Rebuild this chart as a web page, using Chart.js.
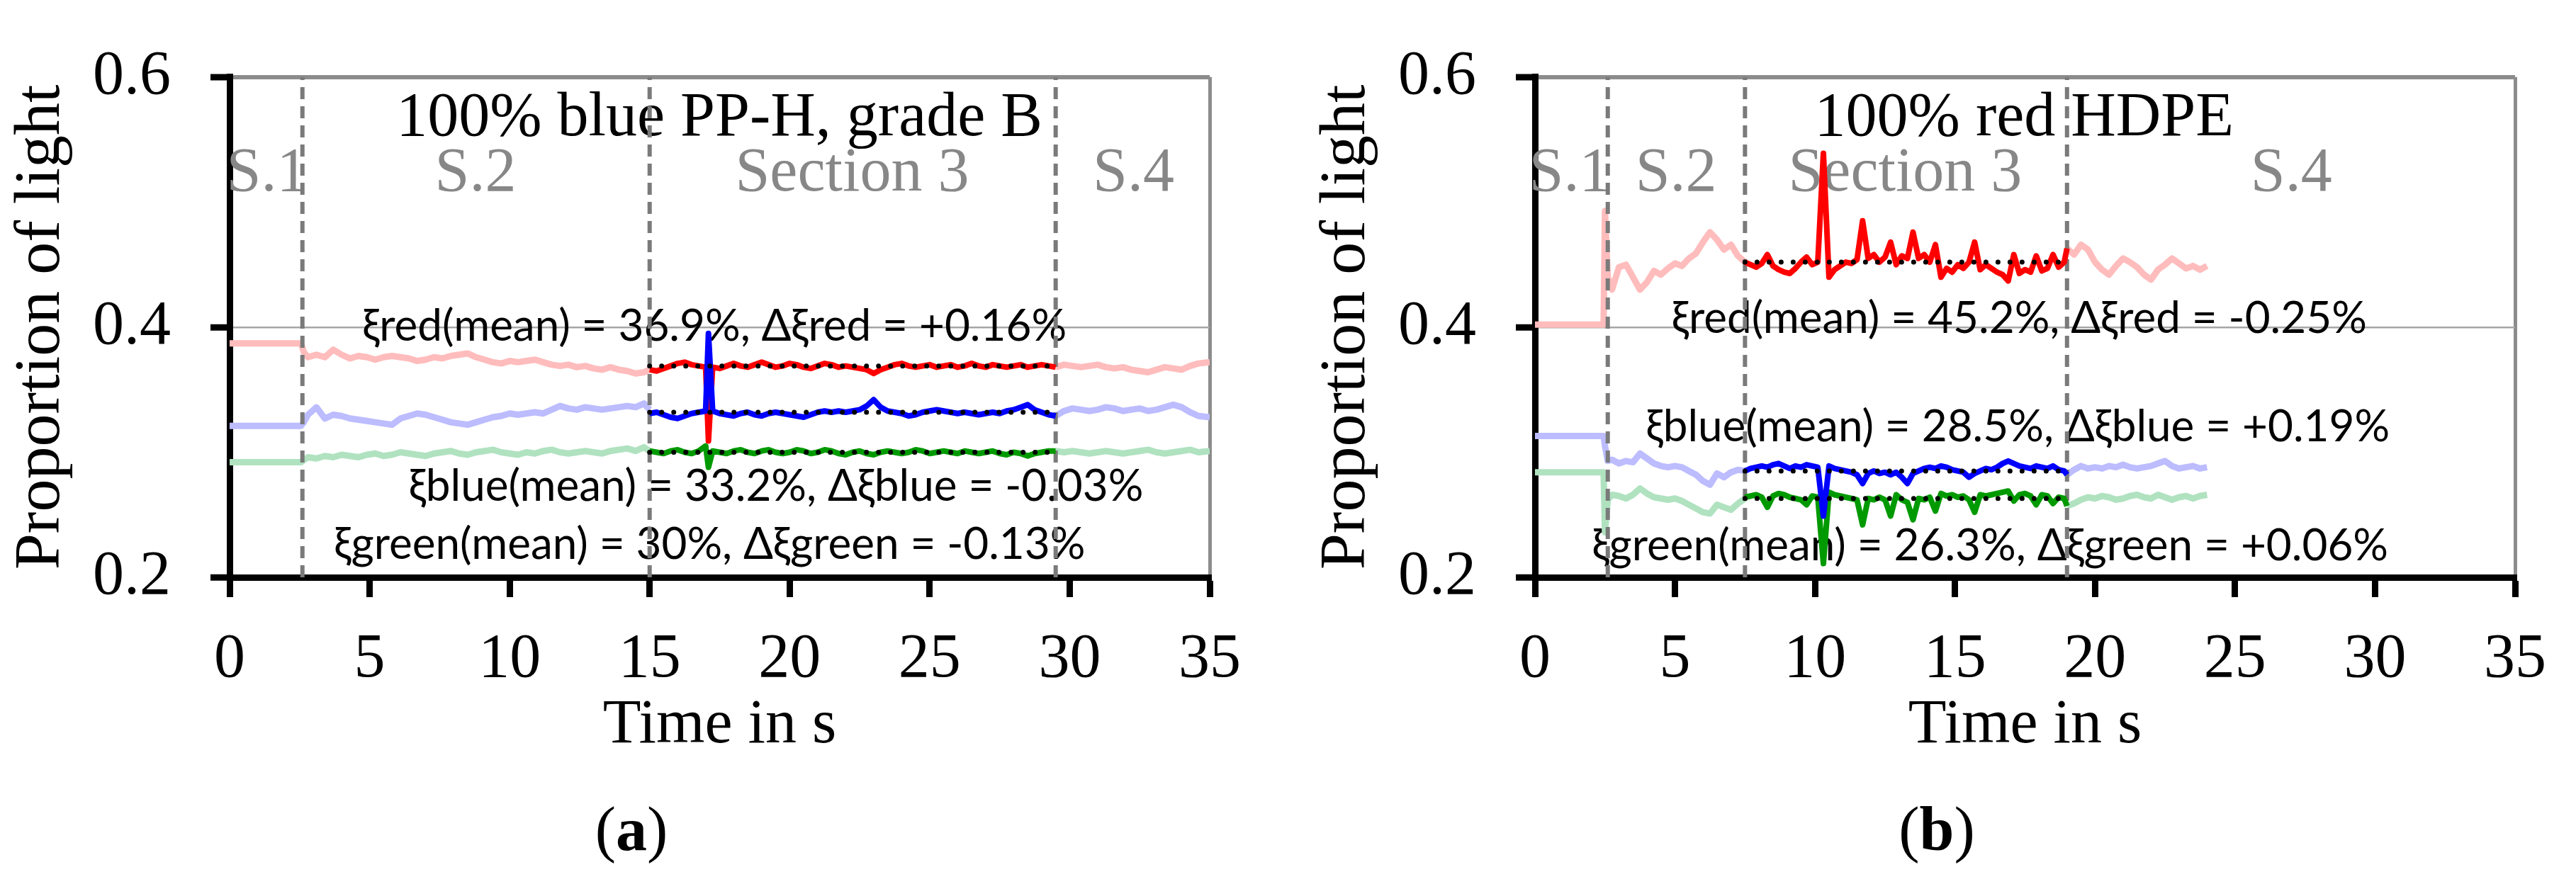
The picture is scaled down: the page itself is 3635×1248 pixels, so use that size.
<!DOCTYPE html>
<html>
<head>
<meta charset="utf-8">
<title>Proportion of light</title>
<script src="https://cdn.jsdelivr.net/npm/chart.js@4.4.1/dist/chart.umd.min.js"></script>
<style>
  html, body { margin: 0; padding: 0; background: #fff; }
  body { width: 3635px; height: 1248px; position: relative; overflow: hidden; }
  .panel { position: absolute; top: 0; height: 1248px; }
  .panel canvas { display: block; }
  #panelA { left: 0; width: 1817px; }
  #panelB { left: 1817px; width: 1818px; }
  .caption { position: absolute; width: 300px; text-align: center; color: #000;
             font: 88px/88px "Liberation Serif", "Times New Roman", serif; }
</style>
</head>
<body>
<div class="panel" id="panelA"><canvas id="chartA" width="1817" height="1248"></canvas></div>
<div class="panel" id="panelB"><canvas id="chartB" width="1818" height="1248"></canvas></div>
<div class="caption" style="left:741px; top:1127px">(<b>a</b>)</div>
<div class="caption" style="left:2583px; top:1127px">(<b>b</b>)</div>

<script>
/* =========================
   DATA - panel (a) 100% blue PP-H
========================= */
const tPreA = [0, 2.55, 2.65, 2.8, 3.1, 3.4, 3.7, 4.0, 4.3, 4.6, 4.9, 5.2, 5.5, 5.8, 6.1, 6.4, 6.7, 7.0, 7.3, 7.6, 7.9, 8.2, 8.5, 8.8, 9.1, 9.4, 9.7, 10.0, 10.3, 10.6, 10.9, 11.2, 11.5, 11.8, 12.1, 12.4, 12.7, 13.0, 13.3, 13.6, 13.9, 14.2, 14.5, 14.8, 15.0];
const redPreA = [0.387, 0.387, 0.380, 0.376, 0.378, 0.376, 0.382, 0.378, 0.375, 0.377, 0.376, 0.374, 0.376, 0.377, 0.376, 0.375, 0.373, 0.374, 0.376, 0.375, 0.377, 0.378, 0.379, 0.376, 0.374, 0.372, 0.371, 0.373, 0.372, 0.373, 0.374, 0.372, 0.370, 0.369, 0.370, 0.368, 0.369, 0.367, 0.366, 0.368, 0.366, 0.365, 0.363, 0.364, 0.366];
const bluePreA = [0.321, 0.321, 0.324, 0.330, 0.336, 0.327, 0.330, 0.329, 0.327, 0.326, 0.325, 0.324, 0.323, 0.322, 0.327, 0.329, 0.331, 0.330, 0.328, 0.326, 0.324, 0.323, 0.322, 0.324, 0.326, 0.328, 0.329, 0.331, 0.330, 0.331, 0.332, 0.331, 0.334, 0.337, 0.335, 0.334, 0.336, 0.335, 0.334, 0.335, 0.336, 0.337, 0.336, 0.339, 0.334];
const greenPreA = [0.292, 0.292, 0.294, 0.296, 0.295, 0.297, 0.296, 0.298, 0.297, 0.296, 0.298, 0.299, 0.297, 0.298, 0.300, 0.299, 0.298, 0.297, 0.299, 0.300, 0.301, 0.299, 0.298, 0.300, 0.301, 0.302, 0.300, 0.299, 0.298, 0.300, 0.299, 0.301, 0.302, 0.300, 0.299, 0.300, 0.301, 0.300, 0.299, 0.301, 0.302, 0.303, 0.301, 0.304, 0.301];

const tSecA = [15.0, 15.25, 15.5, 15.75, 16.0, 16.25, 16.5, 16.75, 17.0, 17.1, 17.25, 17.5, 17.75, 18.0, 18.25, 18.5, 18.75, 19.0, 19.25, 19.5, 19.75, 20.0, 20.25, 20.5, 20.75, 21.0, 21.25, 21.5, 21.75, 22.0, 22.25, 22.5, 22.75, 23.0, 23.25, 23.5, 23.75, 24.0, 24.25, 24.5, 24.75, 25.0, 25.25, 25.5, 25.75, 26.0, 26.25, 26.5, 26.75, 27.0, 27.25, 27.5, 27.75, 28.0, 28.25, 28.5, 28.75, 29.0, 29.25, 29.5];
const redSecA = [0.366, 0.365, 0.367, 0.369, 0.371, 0.372, 0.370, 0.369, 0.368, 0.309, 0.368, 0.367, 0.369, 0.371, 0.369, 0.368, 0.370, 0.372, 0.370, 0.368, 0.369, 0.371, 0.370, 0.368, 0.367, 0.369, 0.371, 0.370, 0.368, 0.369, 0.368, 0.367, 0.366, 0.363, 0.366, 0.368, 0.370, 0.371, 0.369, 0.368, 0.369, 0.370, 0.368, 0.369, 0.370, 0.368, 0.369, 0.371, 0.369, 0.368, 0.370, 0.369, 0.368, 0.369, 0.370, 0.368, 0.369, 0.370, 0.369, 0.368];
const blueSecA = [0.331, 0.332, 0.330, 0.328, 0.327, 0.329, 0.331, 0.332, 0.333, 0.395, 0.333, 0.331, 0.330, 0.329, 0.331, 0.332, 0.330, 0.329, 0.331, 0.332, 0.331, 0.330, 0.329, 0.328, 0.330, 0.332, 0.333, 0.332, 0.333, 0.332, 0.333, 0.334, 0.337, 0.342, 0.336, 0.333, 0.332, 0.331, 0.329, 0.330, 0.332, 0.333, 0.334, 0.333, 0.332, 0.331, 0.332, 0.331, 0.330, 0.331, 0.332, 0.331, 0.333, 0.334, 0.336, 0.338, 0.334, 0.332, 0.330, 0.329];
const greenSecA = [0.301, 0.300, 0.299, 0.301, 0.302, 0.300, 0.299, 0.301, 0.305, 0.288, 0.301, 0.300, 0.299, 0.301, 0.302, 0.300, 0.299, 0.301, 0.302, 0.300, 0.299, 0.300, 0.302, 0.301, 0.299, 0.300, 0.302, 0.301, 0.299, 0.298, 0.300, 0.301, 0.299, 0.298, 0.300, 0.301, 0.300, 0.299, 0.300, 0.302, 0.301, 0.299, 0.300, 0.301, 0.300, 0.299, 0.301, 0.300, 0.299, 0.300, 0.301, 0.299, 0.298, 0.300, 0.299, 0.297, 0.299, 0.300, 0.301, 0.301];

const tPostA = [29.5, 29.8, 30.1, 30.4, 30.7, 31.0, 31.3, 31.6, 31.9, 32.2, 32.5, 32.8, 33.1, 33.4, 33.7, 34.0, 34.3, 34.6, 35.0];
const redPostA = [0.368, 0.370, 0.369, 0.368, 0.369, 0.370, 0.368, 0.367, 0.368, 0.366, 0.365, 0.364, 0.366, 0.368, 0.367, 0.366, 0.369, 0.371, 0.372];
const bluePostA = [0.329, 0.333, 0.335, 0.334, 0.333, 0.334, 0.336, 0.335, 0.333, 0.334, 0.335, 0.333, 0.334, 0.336, 0.338, 0.336, 0.332, 0.329, 0.328];
const greenPostA = [0.301, 0.300, 0.301, 0.300, 0.299, 0.300, 0.301, 0.300, 0.299, 0.300, 0.301, 0.302, 0.300, 0.299, 0.300, 0.301, 0.302, 0.300, 0.301];

const meansA = [0.369, 0.332, 0.300];        // red, blue, green
const sectionsA = [2.6, 15, 29.5];           // dashed section borders in s

/* =========================
   DATA - panel (b) 100% red HDPE
========================= */
const tPreB = [0, 2.45, 2.5, 2.6, 2.75, 3.0, 3.25, 3.5, 3.75, 4.0, 4.25, 4.5, 4.75, 5.0, 5.25, 5.5, 5.75, 6.0, 6.25, 6.5, 6.75, 7.0, 7.25, 7.5];
const redPreB = [0.402, 0.402, 0.493, 0.440, 0.430, 0.448, 0.450, 0.440, 0.430, 0.436, 0.445, 0.442, 0.447, 0.451, 0.449, 0.455, 0.459, 0.468, 0.476, 0.470, 0.462, 0.466, 0.457, 0.452];
const bluePreB = [0.313, 0.313, 0.305, 0.293, 0.294, 0.291, 0.293, 0.292, 0.299, 0.295, 0.291, 0.289, 0.288, 0.289, 0.288, 0.285, 0.282, 0.277, 0.274, 0.283, 0.280, 0.284, 0.286, 0.285];
const greenPreB = [0.284, 0.284, 0.236, 0.262, 0.266, 0.265, 0.263, 0.266, 0.271, 0.267, 0.264, 0.263, 0.262, 0.263, 0.261, 0.258, 0.255, 0.252, 0.251, 0.258, 0.256, 0.254, 0.259, 0.263];

const tSecB = [7.5, 7.7, 7.9, 8.1, 8.3, 8.5, 8.7, 8.9, 9.1, 9.3, 9.5, 9.7, 9.9, 10.1, 10.3, 10.5, 10.7, 10.9, 11.1, 11.3, 11.5, 11.7, 11.9, 12.1, 12.3, 12.5, 12.7, 12.9, 13.1, 13.3, 13.5, 13.7, 13.9, 14.1, 14.3, 14.5, 14.7, 14.9, 15.1, 15.3, 15.5, 15.7, 15.9, 16.1, 16.3, 16.5, 16.7, 16.9, 17.1, 17.3, 17.5, 17.7, 17.9, 18.1, 18.3, 18.5, 18.7, 18.9, 19.0];
const redSecB = [0.452, 0.450, 0.448, 0.451, 0.458, 0.449, 0.446, 0.444, 0.443, 0.447, 0.452, 0.456, 0.450, 0.452, 0.539, 0.440, 0.446, 0.449, 0.452, 0.451, 0.454, 0.485, 0.455, 0.458, 0.452, 0.456, 0.468, 0.450, 0.457, 0.455, 0.476, 0.455, 0.458, 0.452, 0.466, 0.440, 0.447, 0.444, 0.450, 0.447, 0.452, 0.468, 0.446, 0.450, 0.447, 0.444, 0.442, 0.437, 0.458, 0.443, 0.446, 0.444, 0.457, 0.445, 0.447, 0.458, 0.448, 0.452, 0.463];
const blueSecB = [0.285, 0.287, 0.288, 0.289, 0.288, 0.290, 0.291, 0.289, 0.287, 0.289, 0.288, 0.290, 0.289, 0.288, 0.249, 0.289, 0.287, 0.286, 0.285, 0.284, 0.282, 0.275, 0.283, 0.285, 0.283, 0.284, 0.282, 0.284, 0.280, 0.275, 0.283, 0.285, 0.287, 0.288, 0.287, 0.289, 0.288, 0.286, 0.285, 0.284, 0.280, 0.283, 0.285, 0.287, 0.286, 0.288, 0.291, 0.293, 0.291, 0.289, 0.288, 0.287, 0.289, 0.288, 0.287, 0.289, 0.286, 0.285, 0.282];
const greenSecB = [0.264, 0.265, 0.266, 0.264, 0.256, 0.265, 0.267, 0.266, 0.264, 0.263, 0.262, 0.258, 0.265, 0.264, 0.211, 0.268, 0.266, 0.265, 0.264, 0.263, 0.262, 0.242, 0.263, 0.262, 0.264, 0.262, 0.249, 0.266, 0.262, 0.260, 0.246, 0.263, 0.262, 0.264, 0.253, 0.267, 0.265, 0.266, 0.264, 0.265, 0.262, 0.252, 0.266, 0.265, 0.266, 0.267, 0.268, 0.269, 0.261, 0.266, 0.267, 0.265, 0.258, 0.266, 0.265, 0.259, 0.264, 0.263, 0.257];

const tPostB = [19.0, 19.25, 19.5, 19.75, 20.0, 20.25, 20.5, 20.75, 21.0, 21.25, 21.5, 21.75, 22.0, 22.25, 22.5, 22.75, 23.0, 23.25, 23.5, 23.75, 24.0];
const redPostB = [0.463, 0.458, 0.466, 0.462, 0.452, 0.446, 0.442, 0.449, 0.455, 0.452, 0.448, 0.442, 0.438, 0.446, 0.450, 0.455, 0.451, 0.447, 0.449, 0.446, 0.449];
const bluePostB = [0.282, 0.286, 0.289, 0.287, 0.288, 0.287, 0.289, 0.288, 0.290, 0.288, 0.287, 0.288, 0.289, 0.291, 0.293, 0.289, 0.287, 0.288, 0.289, 0.287, 0.288];
const greenPostB = [0.257, 0.259, 0.262, 0.264, 0.263, 0.265, 0.264, 0.262, 0.263, 0.265, 0.266, 0.264, 0.263, 0.266, 0.264, 0.262, 0.264, 0.265, 0.263, 0.265, 0.266];

const meansB = [0.452, 0.285, 0.263];
const sectionsB = [2.6, 7.5, 19];

/* =========================
   AXES / TEXT
========================= */
const xTicks = [0, 5, 10, 15, 20, 25, 30, 35];
const yTicks = [0.2, 0.4, 0.6];
const xTitle = "Time in s";
const yTitle = "Proportion of light";
const sectionNames = ["S.1", "S.2", "Section 3", "S.4"];

const SERIF = '"Liberation Serif", "Times New Roman", serif';
const SANS = 'Lato, "Noto Sans", "DejaVu Sans", sans-serif';

const COL = {
  red: "#ff0000", blue: "#0000ff", green: "#009a00",
  redLight: "#ffbcbc", blueLight: "#bcbcff", greenLight: "#b0e2c0",
  dash: "#7a7a7a", section: "#878787"
};

/* =========================
   HELPERS
========================= */
function pts(times, values) {
  return times.map((t, i) => ({ x: t, y: values[i] }));
}

// faint trace before and after section 3, broken over section 3
function faintPts(tPre, vPre, tPost, vPost) {
  const gapX = (tPre[tPre.length - 1] + tPost[0]) / 2;
  return pts(tPre, vPre).concat([{ x: gapX, y: null }], pts(tPost, vPost));
}

function near(a, b) {
  return a !== undefined && Math.abs(a - b) < 1e-6;
}

function line(data, color, width, order, extra) {
  return Object.assign({
    data: data, borderColor: color, borderWidth: width, order: order,
    pointRadius: 0, tension: 0, fill: false, spanGaps: false,
    borderJoinStyle: "round", borderCapStyle: "butt"
  }, extra || {});
}

// text drawn under the traces, anchored in data units
function textPlugin(items) {
  return {
    id: "panelText",
    beforeDatasetsDraw(chart) {
      const ctx = chart.ctx;
      const sx = chart.scales.x, sy = chart.scales.y;
      ctx.save();
      items.forEach(it => {
        ctx.font = it.font;
        ctx.fillStyle = it.color;
        ctx.textAlign = "center";
        ctx.textBaseline = "middle";
        ctx.fillText(it.text, sx.getPixelForValue(it.t), sy.getPixelForValue(it.v));
      });
      ctx.restore();
    }
  };
}

/* =========================
   PANEL BUILDER
========================= */
function buildPanel(id, p) {
  const datasets = [];

  // faint full-length traces
  datasets.push(line(faintPts(p.tPre, p.redPre, p.tPost, p.redPost), COL.redLight, 9, 60));
  datasets.push(line(faintPts(p.tPre, p.bluePre, p.tPost, p.bluePost), COL.blueLight, 9, 60));
  datasets.push(line(faintPts(p.tPre, p.greenPre, p.tPost, p.greenPost), COL.greenLight, 9, 60));

  // section borders
  p.sections.forEach(s => {
    datasets.push(line([{ x: s, y: yTicks[0] }, { x: s, y: yTicks[2] }], COL.dash, 6, 50,
      { borderDash: [17, 10] }));
  });

  // section 3 traces
  datasets.push(line(pts(p.tSec, p.redSec), COL.red, 8, 30));
  datasets.push(line(pts(p.tSec, p.greenSec), COL.green, 8, 20));
  datasets.push(line(pts(p.tSec, p.blueSec), COL.blue, 8, 10));

  // mean values (dotted)
  const t0 = p.tSec[0], t1 = p.tSec[p.tSec.length - 1];
  p.means.forEach(m => {
    datasets.push(line([{ x: t0, y: m }, { x: t1, y: m }], "#000", 7, 0,
      { borderDash: [0, 17], borderCapStyle: "round" }));
  });

  const serifFont = { family: SERIF, size: 88 };

  return new Chart(document.getElementById(id), {
    type: "line",
    data: { datasets: datasets },
    plugins: [textPlugin(p.texts)],
    options: {
      responsive: false,
      animation: false,
      devicePixelRatio: 1,
      layout: { padding: p.padding },
      plugins: { legend: { display: false }, tooltip: { enabled: false } },
      scales: {
        x: {
          type: "linear",
          min: xTicks[0], max: xTicks[xTicks.length - 1],
          afterBuildTicks: s => { s.ticks = xTicks.map(v => ({ value: v })); },
          ticks: { color: "#000", font: serifFont, padding: 36, maxRotation: 0, autoSkip: false },
          grid: {
            color: c => (c.tick && near(c.tick.value, 35)) ? "#8c8c8c" : "rgba(0,0,0,0)",
            lineWidth: 5, tickColor: "#000", tickWidth: 9, tickLength: 28
          },
          border: { display: true, color: "#000", width: 9 },
          title: { display: true, text: xTitle, color: "#000", font: serifFont, padding: { top: 0, bottom: 170 } },
          afterFit: s => { s.height = 433; }
        },
        y: {
          type: "linear",
          min: yTicks[0], max: yTicks[yTicks.length - 1],
          afterBuildTicks: s => { s.ticks = yTicks.map(v => ({ value: v })); },
          ticks: { color: "#000", font: serifFont, padding: 56, callback: v => v.toFixed(1) },
          grid: {
            color: c => {
              const v = c.tick && c.tick.value;
              if (near(v, 0.6)) return "#8c8c8c";
              if (near(v, 0.4)) return "#a6a6a6";
              return "rgba(0,0,0,0)";
            },
            lineWidth: c => (c.tick && near(c.tick.value, 0.6)) ? 6 : 2.5,
            tickColor: "#000", tickWidth: 9, tickLength: 27
          },
          border: { display: true, color: "#000", width: 9 },
          title: { display: true, text: yTitle, color: "#000", font: { family: SERIF, size: 92 }, padding: { top: 4, bottom: 0 } },
          afterFit: s => { s.width = 324; }
        }
      }
    }
  });
}

function panelTexts(title, titleT, sectionT, notes) {
  const items = [{ text: title, t: titleT, v: 0.5665, font: "88px " + SERIF, color: "#000" }];
  sectionNames.forEach((name, i) => {
    items.push({ text: name, t: sectionT[i], v: 0.5224, font: "88px " + SERIF, color: COL.section });
  });
  notes.forEach(n => {
    items.push({ text: n[0], t: n[1], v: n[2], font: "62px " + SANS, color: "#000" });
  });
  return items;
}

/* =========================
   DRAW
========================= */
buildPanel("chartA", {
  tPre: tPreA, redPre: redPreA, bluePre: bluePreA, greenPre: greenPreA,
  tPost: tPostA, redPost: redPostA, bluePost: bluePostA, greenPost: greenPostA,
  tSec: tSecA, redSec: redSecA, blueSec: blueSecA, greenSec: greenSecA,
  means: meansA, sections: sectionsA,
  padding: { left: 0, right: 110, top: 86, bottom: 0 },
  texts: panelTexts("100% blue PP-H, grade B", 17.49, [1.34, 8.78, 22.23, 32.28], [
    ["ξred(mean) = 36.9%, Δξred = +0.16%", 17.31, 0.4003],
    ["ξblue(mean) = 33.2%, Δξblue = -0.03%", 19.51, 0.2724],
    ["ξgreen(mean) = 30%, Δξgreen = -0.13%", 17.14, 0.2258]
  ])
});

buildPanel("chartB", {
  tPre: tPreB, redPre: redPreB, bluePre: bluePreB, greenPre: greenPreB,
  tPost: tPostB, redPost: redPostB, bluePost: bluePostB, greenPost: greenPostB,
  tSec: tSecB, redSec: redSecB, blueSec: blueSecB, greenSec: greenSecB,
  means: meansB, sections: sectionsB,
  padding: { left: 25, right: 86, top: 86, bottom: 0 },
  texts: panelTexts("100% red HDPE", 17.47, [1.24, 5.04, 13.22, 27.01], [
    ["ξred(mean) = 45.2%, Δξred = -0.25%", 17.29, 0.407],
    ["ξblue(mean) = 28.5%, Δξblue = +0.19%", 17.24, 0.3202],
    ["ξgreen(mean) = 26.3%, Δξgreen = +0.06%", 16.25, 0.2252]
  ])
});
</script>
</body>
</html>
